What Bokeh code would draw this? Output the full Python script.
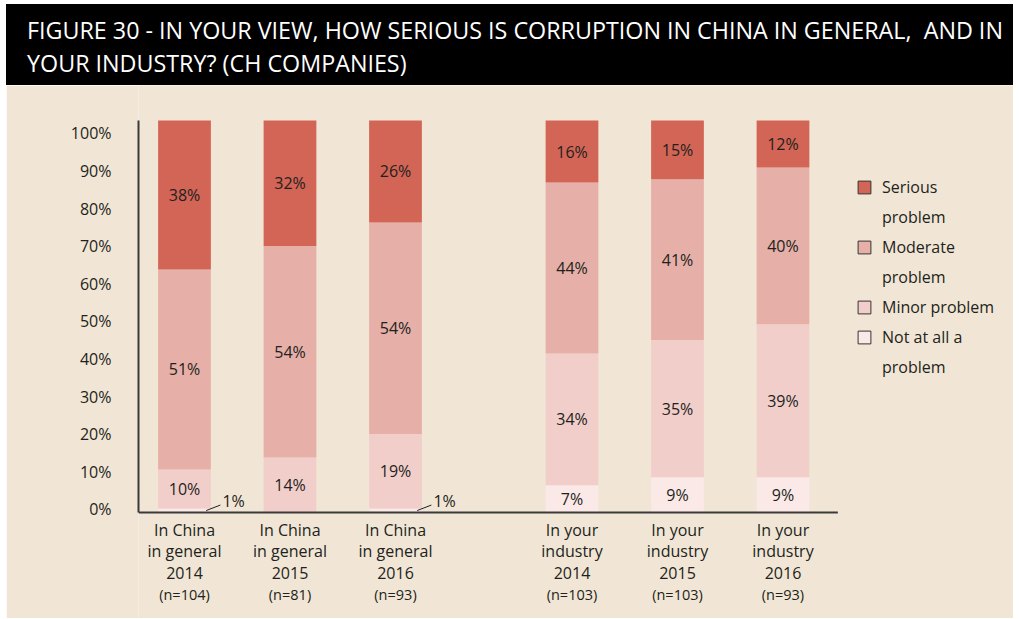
from bokeh.plotting import figure
from bokeh.models import (Range1d, Div, Legend, LegendItem, FixedTicker, ColumnDataSource,
                          CustomJSTickFormatter)
from bokeh.layouts import column
from bokeh.embed import file_html
from bokeh.resources import INLINE
from bokeh.core.properties import value

# ---------------- data ----------------
title_lines = [
    "FIGURE 30 - IN YOUR VIEW, HOW SERIOUS IS CORRUPTION IN CHINA IN GENERAL,  AND IN",
    "YOUR INDUSTRY? (CH COMPANIES)",
]
cat_line1 = ["In China", "In China", "In China", "In your", "In your", "In your"]
cat_line2 = ["in general", "in general", "in general", "industry", "industry", "industry"]
cat_years = ["2014", "2015", "2016", "2014", "2015", "2016"]
cat_n = ["(n=104)", "(n=81)", "(n=93)", "(n=103)", "(n=103)", "(n=93)"]

series_keys = ["not_at_all", "minor", "moderate", "serious"]
# legend rows, top to bottom: (text, series key or None for a continuation line)
legend_rows = [("Serious", "serious"), ("problem", None),
               ("Moderate", "moderate"), ("problem", None),
               ("Minor problem", "minor"),
               ("Not at all a", "not_at_all"), ("problem", None)]
not_at_all = [1, 0, 1, 7, 9, 9]
minor = [10, 14, 19, 34, 35, 39]
moderate = [51, 54, 54, 44, 41, 40]
serious = [38, 32, 26, 16, 15, 12]

y_ticks = [0, 10, 20, 30, 40, 50, 60, 70, 80, 90, 100]

# ---------------- style ----------------
FONT = "Open Sans"
BG = "#f1e6d5"
TXT = "#231f20"
AXIS = "#3a3a3a"
colors = {"not_at_all": "#fae9e7", "minor": "#f2cecb", "moderate": "#e6afa7", "serious": "#d26555"}

W, H_HEAD, H_FIG = 1007, 81, 533
GROUP_GAP = 0.673
BAR_W = 0.5
# the source's tick labels sit on a slightly compressed scale
LABEL_OFF, LABEL_SCALE = 0.77, 0.9593

# ---------------- derived ----------------
n = len(cat_years)
xs = [i + (GROUP_GAP if i >= 3 else 0) for i in range(n)]
raw = {"not_at_all": not_at_all, "minor": minor, "moderate": moderate, "serious": serious}
totals = [sum(raw[k][i] for k in series_keys) for i in range(n)]
norm = {k: [raw[k][i] / totals[i] * 100 for i in range(n)] for k in series_keys}

src = ColumnDataSource(dict(x=xs, **norm))

# ---------------- header ----------------
title_html = "<br>".join(l.replace("  ", " &nbsp;") for l in title_lines)
header = Div(
    text=(f'<div style="font-family:\'{FONT}\';font-size:23.3px;line-height:33px;color:white;'
          f'background:black;width:{W}px;height:{H_HEAD}px;box-sizing:border-box;'
          f'padding:10px 0 0 21px;white-space:nowrap;overflow:hidden;">{title_html}</div>'),
    width=W, height=H_HEAD, margin=0, styles={"background-color": "black"},
)

# ---------------- figure ----------------
p = figure(width=W, height=H_FIG, output_backend="svg", toolbar_location=None,
           x_range=Range1d(-0.436, 7.858), y_range=Range1d(-27.04, 108.93),
           min_border_left=132, min_border_right=0, min_border_top=0, min_border_bottom=0)
p.background_fill_color = BG
p.border_fill_color = BG
p.outline_line_color = None
p.grid.visible = False
p.xaxis.visible = False

ya = p.yaxis[0]
ya.bounds = (0, 100)
ya.ticker = FixedTicker(ticks=[LABEL_OFF + t * LABEL_SCALE for t in y_ticks])
ya.formatter = CustomJSTickFormatter(args=dict(off=LABEL_OFF, sc=LABEL_SCALE),
                                     code="return Math.round((tick - off) / sc) + '%';")
ya.major_tick_line_color = None
ya.minor_tick_line_color = None
ya.axis_line_color = AXIS
ya.axis_line_width = 2
ya.major_label_standoff = 21
ya.major_label_text_font = FONT
ya.major_label_text_font_size = "16px"
ya.major_label_text_color = TXT

bars = p.vbar_stack(series_keys, x="x", width=BAR_W, color=[colors[k] for k in series_keys],
                    line_color=None, source=src)

# baseline
p.line(x=[p.x_range.start, xs[-1] + 0.52], y=[0, 0], line_color=AXIS, line_width=2)

# value labels
lx, ly, lt = [], [], []
sx, sy, st = [], [], []
for i in range(n):
    base = 0
    for k in series_keys:
        v = norm[k][i]
        rv = raw[k][i]
        if rv >= 3:
            lx.append(xs[i]); ly.append(base + v / 2); lt.append(f"{rv}%")
        elif rv > 0:
            sx.append(xs[i]); sy.append(base + v / 2); st.append(f"{rv}%")
        base += v
p.text(x=lx, y=ly, text=lt, text_align="center", text_baseline="middle",
       text_font=value(FONT), text_font_size="16px", text_color=TXT)
p.segment(x0=[x + 0.206 for x in sx], y0=sy, x1=[x + 0.34 for x in sx], y1=[y + 1.4 for y in sy],
          line_color=TXT, line_width=1)
p.text(x=[x + 0.36 for x in sx], y=[y + 2.4 for y in sy], text=st, text_align="left",
       text_baseline="middle", text_font=value(FONT), text_font_size="16px", text_color=TXT)

# category labels
for lines, off, size in [(cat_line1, 17, "16px"), (cat_line2, 38, "16px"),
                         (cat_years, 60, "16px"), (cat_n, 82, "14.5px")]:
    p.text(x=xs, y=[0] * n, text=lines, y_offset=off, text_align="center",
           text_baseline="middle", text_font=value(FONT), text_font_size=size, text_color=TXT)

# legend (hidden single-point renderers give outlined swatches)
swatch = {}
for k in series_keys:
    swatch[k] = p.vbar(x=[xs[0]], top=[0], width=BAR_W, fill_color=colors[k],
                       line_color="#333333", line_width=1, visible=False)
items = [LegendItem(label=txt, renderers=([swatch[k]] if k else [])) for txt, k in legend_rows]
legend = Legend(items=items, location=(718, 240), background_fill_alpha=0, border_line_color=None,
                glyph_width=16, glyph_height=16, label_standoff=10, spacing=8, padding=0, margin=0,
                label_height=22, label_text_font=FONT, label_text_font_size="16px",
                label_text_color=TXT)
p.add_layout(legend)

layout = column(header, p, spacing=0, margin=(4, 0, 0, 6))
open("out.html", "w").write(file_html(layout, INLINE))
